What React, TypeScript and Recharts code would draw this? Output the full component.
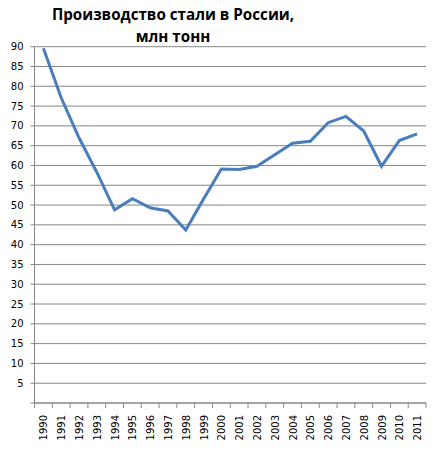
import React from "react";
import { LineChart, Line, XAxis, YAxis, CartesianGrid } from "recharts";

const years = [
  "1990", "1991", "1992", "1993", "1994", "1995", "1996", "1997", "1998", "1999", "2000",
  "2001", "2002", "2003", "2004", "2005", "2006", "2007", "2008", "2009", "2010", "2011",
];
const steel = [
  89.6, 77.1, 67.0, 58.3, 48.8, 51.6, 49.3, 48.5, 43.7, 51.5, 59.1,
  59.0, 59.8, 62.7, 65.6, 66.1, 70.8, 72.4, 68.7, 59.8, 66.3, 68.0,
];
const yTicks = [0, 5, 10, 15, 20, 25, 30, 35, 40, 45, 50, 55, 60, 65, 70, 75, 80, 85, 90];
const titleLines = ["Производство стали в России,", "млн тонн"];

const data = years.map((year, i) => ({ year, value: steel[i] }));

const W = 435;
const H = 450;
const PLOT_LEFT = 34.5;
const PLOT_RIGHT = 426;
const STEP = (PLOT_RIGHT - PLOT_LEFT) / years.length;
const AXIS = "#868686";
const FONT = "'DejaVu Sans', Verdana, sans-serif";

function YearTick(props: any) {
  const { x, y, payload, index } = props;
  const half = STEP / 2;
  return (
    <g>
      <line x1={x - half} x2={x - half} y1={y} y2={y + 5} stroke={AXIS} />
      {index === years.length - 1 && (
        <line x1={x + half} x2={x + half} y1={y} y2={y + 5} stroke={AXIS} />
      )}
      <text
        transform={`translate(${x + 0.5},${y + 12}) rotate(-90)`}
        textAnchor="end"
        dominantBaseline="central"
        fontFamily={FONT}
        fontSize={10}
        fill="#000"
      >
        {payload.value}
      </text>
    </g>
  );
}

export default function App() {
  return (
    <div style={{ position: "relative", width: W, height: H, margin: -8 }}>
      <style>{`body{margin:8px}`}</style>
      <div
        style={{
          position: "absolute",
          left: 0,
          top: 0,
          width: 346,
          textAlign: "center",
          fontFamily: "'Open Sans', sans-serif",
          fontWeight: 700,
          fontSize: 15.2,
          lineHeight: "22px",
          color: "#000",
          paddingTop: 3,
        }}
      >
        {titleLines.map((t) => (
          <div key={t}>{t}</div>
        ))}
      </div>
      <LineChart
        width={W}
        height={H}
        data={data}
        margin={{ top: 46.7, right: W - PLOT_RIGHT, bottom: 0, left: 0 }}
      >
        <CartesianGrid vertical={false} stroke={AXIS} strokeWidth={1} />
        <XAxis
          dataKey="year"
          interval={0}
          height={47}
          padding={{ left: STEP / 2, right: STEP / 2 }}
          axisLine={{ stroke: AXIS }}
          tickLine={false}
          tickSize={0}
          tickMargin={0}
          tick={<YearTick />}
        />
        <YAxis
          width={PLOT_LEFT}
          domain={[0, 90]}
          ticks={yTicks}
          interval={0}
          axisLine={{ stroke: AXIS }}
          tickLine={{ stroke: AXIS }}
          tickSize={4}
          tickMargin={7}
          tickFormatter={(v: number) => (v === 0 ? "" : String(v))}
          tick={{ fontFamily: FONT, fontSize: 10, fill: "#000" }}
        />
        <Line
          type="linear"
          dataKey="value"
          stroke="#4A7EBB"
          strokeWidth={3}
          dot={false}
          isAnimationActive={false}
        />
      </LineChart>
    </div>
  );
}
